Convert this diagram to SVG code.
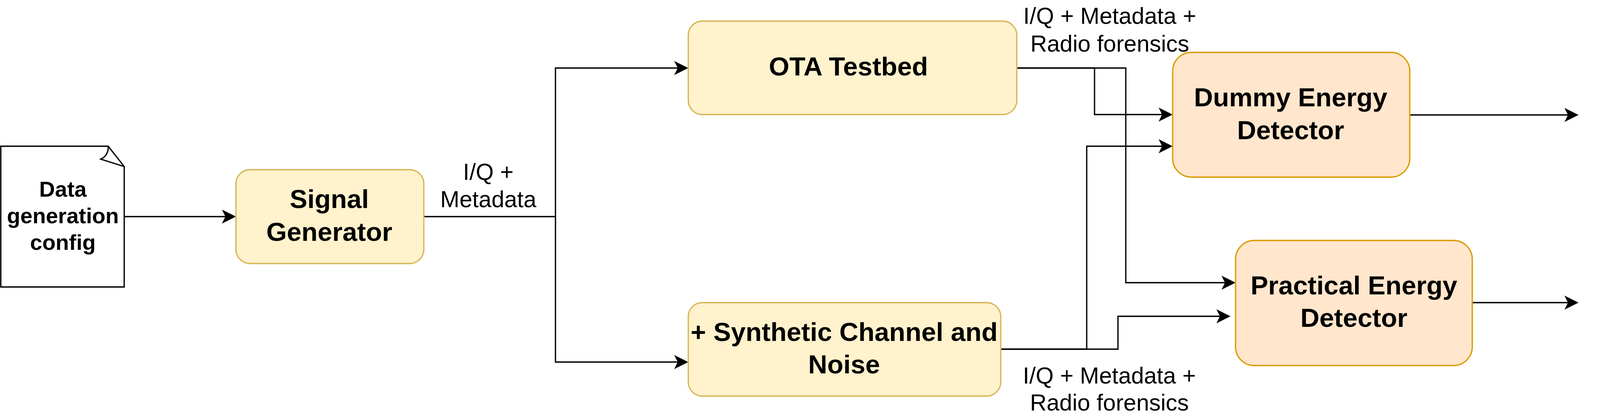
<svg xmlns="http://www.w3.org/2000/svg" width="4484" height="1064" viewBox="0 0 4484 1064">
<style>
.edge{fill:none;stroke:#000;stroke-width:3.3;marker-end:url(#arr)}
.yel{fill:#fff2cc;stroke:#d6b656;stroke-width:3.3}
.ora{fill:#ffe6cc;stroke:#d79b00;stroke-width:3.3}
.nl{font-family:"Liberation Sans",Arial,Helvetica,sans-serif;font-weight:bold;font-size:67.5px;text-anchor:middle;fill:#000}
.dl{font-family:"Liberation Sans",Arial,Helvetica,sans-serif;font-weight:bold;font-size:56px;text-anchor:middle;fill:#000}
.el{font-family:"Liberation Sans",Arial,Helvetica,sans-serif;font-size:59px;text-anchor:middle;fill:#000}
</style>
<defs>
<marker id="arr" viewBox="0 0 36 36" refX="9" refY="18" markerWidth="36" markerHeight="36" markerUnits="userSpaceOnUse" orient="auto">
<path d="M0,0 L36,18 L0,36 L9,18 Z" fill="#000"/>
</marker>
</defs>
<rect width="4484" height="1064" fill="#fff"/>
<g id="connectors">
<path class="edge" d="M318,554 H577"/>
<path class="edge" d="M1085,554 H1422 V174 H1735"/>
<path class="edge" d="M1422,554 V926 H1735"/>
<path class="edge" d="M2603,174 H2802 V293 H2975"/>
<path class="edge" d="M2603,174 H2882 V723 H3136"/>
<path class="edge" d="M2562,893 H2782 V374 H2975"/>
<path class="edge" d="M2562,893 H2862 V809 H3123"/>
<path class="edge" d="M3609,294 H4014"/>
<path class="edge" d="M3769,774 H4014"/>
</g>
<g id="edge-labels">
<text class="el" x="1250" y="460">I/Q +</text>
<text class="el" x="1250" y="530">Metadata</text>
<text class="el" x="2841" y="61">I/Q + Metadata +</text>
<text class="el" x="2841" y="132">Radio forensics</text>
<text class="el" x="2840" y="981">I/Q + Metadata +</text>
<text class="el" x="2840" y="1050">Radio forensics</text>
<text class="el" x="4220" y="280">Box I/Q +</text>
<text class="el" x="4220" y="353">Metadata</text>
<text class="el" x="4220" y="779">Box I/Q +</text>
<text class="el" x="4220" y="852">Metadata</text>
</g>
<g id="node-config">
<path d="M2,374 H277 L318,426 V734 H2 Z" fill="#fff" stroke="#000" stroke-width="3.3"/>
<path d="M277,374 C278,390 270,402 258,407 L318,426" fill="none" stroke="#000" stroke-width="3.3"/>
<text class="dl" x="161" y="503">Data</text>
<text class="dl" x="161" y="571">generation</text>
<text class="dl" x="161" y="639">config</text>
</g>
<g id="node-signal-generator">
<rect class="yel" x="604" y="434" width="481" height="240" rx="36"/>
<text class="nl" x="843" y="532">Signal</text>
<text class="nl" x="843" y="616">Generator</text>
</g>
<g id="node-ota">
<rect class="yel" x="1762" y="54" width="841" height="239" rx="36"/>
<text class="nl" x="2172" y="193">OTA Testbed</text>
</g>
<g id="node-synthetic">
<rect class="yel" x="1762" y="774" width="800" height="239" rx="36"/>
<text class="nl" x="2161" y="872">+ Synthetic Channel and</text>
<text class="nl" x="2161" y="955">Noise</text>
</g>
<g id="node-dummy">
<rect class="ora" x="3002" y="134" width="607" height="319" rx="48"/>
<text class="nl" x="3304" y="272">Dummy Energy</text>
<text class="nl" x="3304" y="356">Detector</text>
</g>
<g id="node-practical">
<rect class="ora" x="3163" y="615" width="606" height="320" rx="48"/>
<text class="nl" x="3466" y="753">Practical Energy</text>
<text class="nl" x="3466" y="836">Detector</text>
</g>
</svg>
